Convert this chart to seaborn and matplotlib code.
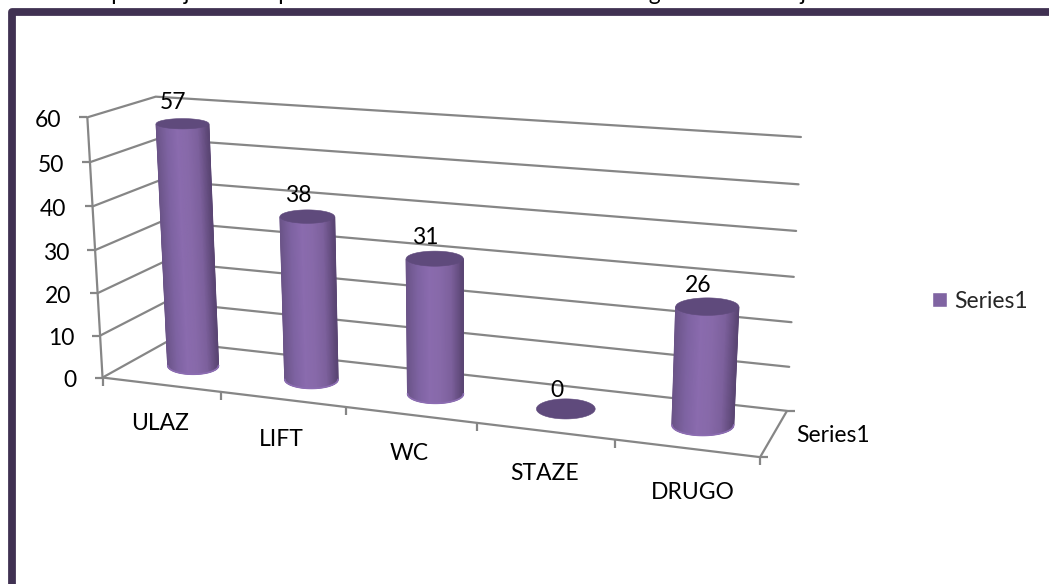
import numpy as np
import pandas as pd
import matplotlib
matplotlib.use("Agg")
import matplotlib.pyplot as plt
from matplotlib.patches import Patch, Polygon
from matplotlib.transforms import Transform
import seaborn as sns

categories = ["ULAZ", "LIFT", "WC", "STAZE", "DRUGO"]
values = [57, 38, 31, 0, 26]
y_ticks = [0, 10, 20, 30, 40, 50, 60]
series_name = "Series1"
page_text = "Grafikon prikazuje stavke prilaza za osobe s invaliditetom u drugim zonama objekta"

BAR = "#8064A2"
TOP = "#5F4A7C"
RIM = "#8C6DB2"
GRID = "#868686"
BORDER = "#403152"
shade_stops = ["#6B5488", "#7E63A2", "#8A6BAE", "#8769A9", "#7C609C", "#5A4573"]

# 3D box corners (category, depth, value) and where they land on the page
anchors_3d = [(0, 0, 0), (5, 0, 0), (0, 1, 0), (5, 1, 0), (0, 0, 60), (0, 1, 60), (5, 1, 60)]
anchors_px = [(102, 378), (760, 457), (168, 341), (787, 411), (88, 117), (155, 97), (801, 137)]

# category label nudges in pixels, the labels do not sit quite evenly under the ticks
label_dx = [-1, -1, -1, 0, 6]
label_dy = [37, 38, 37, 40, 42]


def fit_camera(pts3, pts2):
    rows, rhs = [], []
    for (c, d, z), (u, v) in zip(pts3, pts2):
        rows.append([c, d, z, 1, 0, 0, 0, 0, -u * c, -u * d, -u * z])
        rows.append([0, 0, 0, 0, c, d, z, 1, -v * c, -v * d, -v * z])
        rhs += [u, v]
    sol = np.linalg.lstsq(np.array(rows, float), np.array(rhs, float), rcond=None)[0]
    return np.append(sol, 1).reshape(3, 4)


CAM = fit_camera(anchors_3d, anchors_px)


def project(c, d, z):
    c, d, z = np.broadcast_arrays(c, d, z)
    pts = np.stack([c, d, z, np.ones_like(c, dtype=float)], axis=-1) @ CAM.T
    return pts[..., 0] / pts[..., 2], pts[..., 1] / pts[..., 2]


class BarPlane(Transform):
    """bar coordinates (category index, value) -> page pixels at a fixed depth"""
    input_dims = 2
    output_dims = 2

    def __init__(self, plane_depth):
        super().__init__()
        self.plane_depth = plane_depth

    def transform_non_affine(self, xy):
        u, v = project(xy[:, 0] + 0.5, self.plane_depth, xy[:, 1])
        return np.column_stack([u, v])


def page_axes(fig):
    a = fig.add_axes([0, 0, 1, 1], facecolor="none")
    a.set_xlim(0, 1049)
    a.set_ylim(584, 0)
    a.set_axis_off()
    return a


def level_ellipse(cx, z):
    # Excel draws the cylinder caps nearly level, so keep them flat on the page
    cu, cv = project(cx, DEPTH, z)
    left, _ = project(cx - R_C, DEPTH, z)
    right, _ = project(cx + R_C, DEPTH, z)
    _, near = project(cx, DEPTH - R_D, z)
    _, far = project(cx, DEPTH + R_D, z)
    return float(cu), float(cv), float(right - left) / 2, float(near - far) / 2


sns.set_theme(style="white")
plt.rcParams["font.family"] = ["Lato", "DejaVu Sans"]
FS = 16.5

fig = plt.figure(figsize=(10.49, 5.84), dpi=100, facecolor="white")
ax = page_axes(fig)

# slide frame, only top and left fall inside the crop
ax.plot([12, 12, 1070], [600, 12, 12], color=BORDER, lw=5.6, solid_joinstyle="round")
ax.text(18, 0, page_text, fontsize=FS, color="black", ha="left", va="baseline", clip_on=False)

# walls
rows = []
for z in y_ticks:
    u, v = project(np.array([0.0, 0.0, 5.0]), np.array([0.0, 1.0, 1.0]), float(z))
    rows += [{"z": z, "px": a, "py": b, "o": i} for i, (a, b) in enumerate(zip(u, v))]
walls = pd.DataFrame(rows)
sns.lineplot(data=walls, x="px", y="py", units="z", estimator=None, sort=False,
             color=GRID, lw=1.6, legend=False, ax=ax)
ax.set_xlim(0, 1049)
ax.set_ylim(584, 0)
ax.set_axis_off()


def seg(p0, p1):
    ax.plot([p0[0], p1[0]], [p0[1], p1[1]], color=GRID, lw=1.6, solid_capstyle="butt")


# value axis, floor edges and ticks
left_bottom = project(0.0, 0.0, 0.0)
seg(left_bottom, project(0.0, 0.0, 60.0))
seg(left_bottom, project(5.0, 0.0, 0.0))
seg(project(5.0, 0.0, 0.0), project(5.0, 1.0, 0.0))
for z in y_ticks:
    u, v = project(0.0, 0.0, float(z))
    seg((u - 8, v), (u, v))
    ax.text(u - 26, v + 1, str(z), fontsize=FS, ha="right", va="center_baseline", color="black")
for i in range(len(categories) + 1):
    u, v = project(float(i), 0.0, 0.0)
    seg((u, v), (u, v + 8))
for d in (0.0, 1.0):
    u, v = project(5.0, d, 0.0)
    seg((u, v), (u + 8, v))
for i, name in enumerate(categories):
    u, v = project(i + 0.5, 0.0, 0.0)
    ax.text(u + label_dx[i], v + label_dy[i], name, fontsize=FS, ha="center",
            va="center_baseline", color="black")
u, v = project(5.0, 0.5, 0.0)
ax.text(u + 22, v, series_name, fontsize=FS, ha="left", va="center_baseline", color="black")

# bars go on a second transparent axes so the categorical axis stays apart from the pixel ones
ax_bar = fig.add_axes([0, 0, 1, 1], facecolor="none")
R_C = 0.22
R_D = 0.235
DEPTH = 0.5
df = pd.DataFrame({"category": categories, "value": values, "series": series_name})
sns.barplot(data=df, x="category", y="value", hue="series", palette=[BAR], saturation=1,
            width=2 * R_C, legend=False, ax=ax_bar)
ax_bar.set_axis_off()

ax_top = page_axes(fig)
plane = BarPlane(DEPTH) + ax.transData
shade_cmap = sns.blend_palette(shade_stops, as_cmap=True)
theta = np.linspace(0, 2 * np.pi, 90)
us = np.linspace(-1, 1, 121)
for bar in ax_bar.patches:
    bar.set_transform(plane)
    bar.set_linewidth(0)
    cx = bar.get_x() + bar.get_width() / 2 + 0.5
    h = float(bar.get_height())
    cu1, cv1, a1, b1 = level_ellipse(cx, h)
    if h > 0:
        cu0, cv0, a0, b0 = level_ellipse(cx, 0.0)
        x0 = cu0 + a0 * us
        y0 = cv0 + b0 * np.sqrt(1 - us ** 2)
        x1 = cu1 + a1 * us
        y1 = cv1 + b1 * np.sqrt(1 - us ** 2)
        ax_top.pcolormesh(np.vstack([x0, x1]), np.vstack([y0, y1]), np.vstack([us, us]),
                          shading="gouraud", cmap=shade_cmap, vmin=-1, vmax=1)
        ax_top.plot(x0, y0, color=RIM, lw=1.2)
        outline = Polygon(np.column_stack([np.r_[x0, x1[::-1]], np.r_[y0, y1[::-1]]]),
                          transform=ax_top.transData)
        bar.set_clip_path(outline)
    ax_top.fill(cu1 + a1 * np.cos(theta), cv1 + b1 * np.sin(theta), color=TOP, lw=0.4)
    ax_top.text(cu1 - 9, cv1 - (20 if h == 0 else 23), str(int(h)), fontsize=FS, ha="center",
                va="center_baseline", color="black")

ax_top.set_xlim(0, 1049)
ax_top.set_ylim(584, 0)
ax_top.legend(handles=[Patch(facecolor=BAR, label=series_name)], loc="center left",
              bbox_to_anchor=(932, 301), bbox_transform=ax_top.transData, frameon=False,
              fontsize=FS, handlelength=0.66, handleheight=0.66, handletextpad=0.3,
              borderpad=0, borderaxespad=0)

fig.savefig("out.png", dpi=100, facecolor="white")
